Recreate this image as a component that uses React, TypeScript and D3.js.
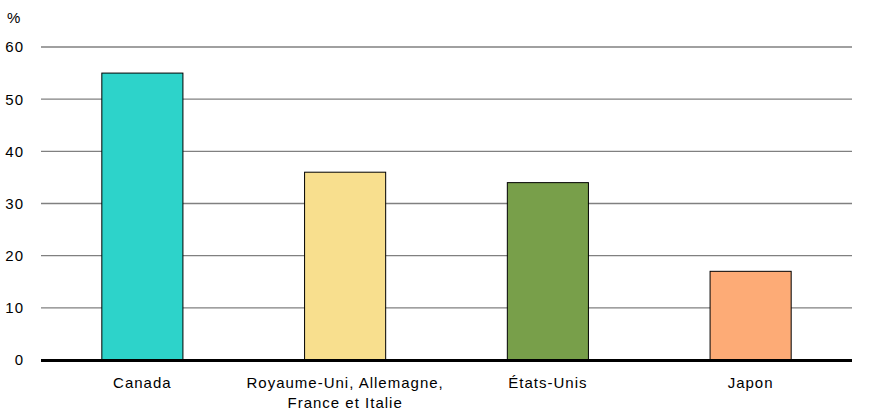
import React from 'react';
import * as d3 from 'd3';

const categories = ['Canada', 'Royaume-Uni, Allemagne,|France et Italie', 'États-Unis', 'Japon'];
const values = [55, 36, 34, 17];
const barColors = ['#2dd3ca', '#f8df8e', '#789f4a', '#fdab76'];
const yTicks = [0, 10, 20, 30, 40, 50, 60];

const width = 871;
const height = 418;
const margin = { top: 47, right: 19, bottom: 58, left: 41 };

export default function App() {
  const x = d3.scaleBand<string>()
    .domain(categories)
    .range([margin.left, width - margin.right])
    .paddingInner(0.6)
    .paddingOuter(0.3);

  const y = d3.scaleLinear()
    .domain([0, 60])
    .range([height - margin.bottom, margin.top]);

  const font = 'Arial, "Liberation Sans", sans-serif';

  return (
    <svg width={width} height={height} style={{ position: 'absolute', left: 0, top: 0 }}
      fontFamily={font} fontSize={15}>
      <rect width={width} height={height} fill="#fff" />
      <text x={7} y={23} fill="#000">%</text>
      {yTicks.filter(t => t > 0).map(t => (
        <line key={t} x1={margin.left} x2={width - margin.right}
          y1={y(t)} y2={y(t)} stroke="#808080" strokeWidth={1.3} />
      ))}
      {yTicks.map(t => (
        <text key={'l' + t} x={24} y={y(t)} dy="0.36em" textAnchor="end" fill="#000"
          letterSpacing="1">{t}</text>
      ))}
      {categories.map((c, i) => (
        <rect key={c} x={x(c)} y={y(values[i])} width={x.bandwidth()}
          height={y(0) - y(values[i])} fill={barColors[i]} stroke="#000" strokeWidth={1} />
      ))}
      <line x1={margin.left} x2={width - margin.right} y1={y(0) + 0.5} y2={y(0) + 0.5}
        stroke="#000" strokeWidth={3} />
      {categories.map(c => (
        <text key={'c' + c} x={(x(c) ?? 0) + x.bandwidth() / 2} y={388} textAnchor="middle" fill="#000"
          letterSpacing="1">
          {c.split('|').map((line, j) => (
            <tspan key={j} x={(x(c) ?? 0) + x.bandwidth() / 2} dy={j === 0 ? 0 : 20}>{line}</tspan>
          ))}
        </text>
      ))}
    </svg>
  );
}
